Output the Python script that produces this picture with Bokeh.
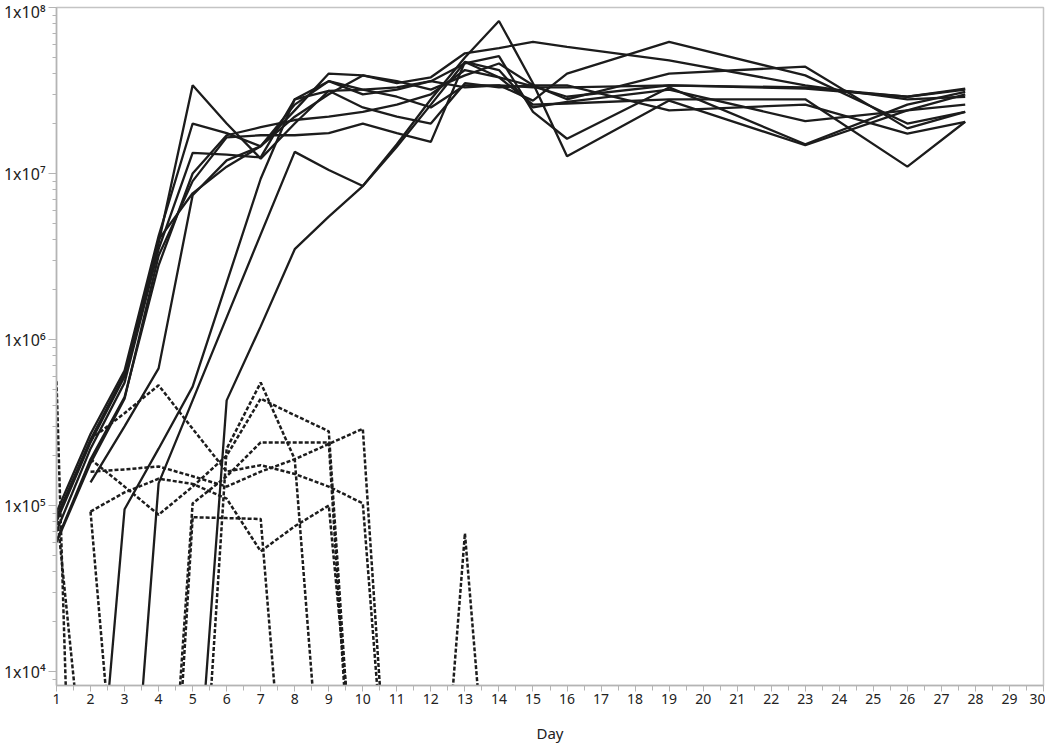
import math
from bokeh.plotting import figure
from bokeh.models import FixedTicker, CustomJSTickFormatter, Range1d
from bokeh.embed import file_html
from bokeh.resources import INLINE

nan = float("nan")

# ---- data ----
days_solid = [1, 2, 3, 4, 5, 6, 7, 8, 9, 10, 11, 12, 13, 14, 15, 16, 19, 23, 26, 27.7]

solid_1 = [8.0e4, 2.4e5, 6.0e5, 3.8e6, 3.4e7, 2.0e7, 1.23e7, 2.0e7, 3.15e7, 3.2e7, 3.3e7, 3.6e7, 3.3e7, 3.4e7, 3.3e7, 3.3e7, 3.4e7, 3.25e7, 2.9e7, 3.25e7]
solid_2 = [9.1e4, 2.7e5, 6.5e5, 4.2e6, 2.0e7, 1.75e7, 1.46e7, 2.4e7, 4.0e7, 3.9e7, 3.5e7, 3.8e7, 5.3e7, 5.7e7, 6.2e7, 5.8e7, 4.8e7, 3.4e7, 2.8e7, 2.9e7]
solid_3 = [7.0e4, 2.2e5, 5.5e5, 3.5e6, 1.33e7, 1.3e7, 1.25e7, 2.8e7, 3.6e7, 3.2e7, 2.9e7, 2.5e7, 3.4e7, 3.4e7, 2.75e7, 4.0e7, 6.2e7, 3.9e7, 2.0e7, 2.35e7]
solid_4 = [6.1e4, 1.9e5, 4.5e5, 2.8e6, 1.0e7, 1.7e7, 1.9e7, 2.1e7, 2.2e7, 2.35e7, 2.6e7, 3.0e7, 4.2e7, 3.8e7, 2.6e7, 2.64e7, 2.8e7, 2.8e7, 1.1e7, 2.05e7]
solid_5 = [6.0e4, 1.8e5, 4.4e5, 3.2e6, 9.0e6, 1.65e7, 1.7e7, 1.7e7, 1.75e7, 2.0e7, 1.75e7, 1.55e7, 4.7e7, 3.8e7, 3.35e7, 2.9e7, 3.4e7, 3.3e7, 2.9e7, 3.2e7]
solid_6 = [8.5e4, 2.5e5, 6.2e5, 4.0e6, 7.6e6, 1.1e7, 1.46e7, 2.6e7, 3.6e7, 3.0e7, 3.2e7, 3.6e7, 4.6e7, 5.1e7, 2.35e7, 1.62e7, 3.3e7, 1.5e7, 2.6e7, 3.1e7]
solid_7 = [nan, 1.38e5, 3.0e5, 6.7e5, 7.4e6, 1.2e7, 1.46e7, 2.2e7, 3.0e7, 3.9e7, 3.6e7, 3.2e7, 3.9e7, 4.6e7, 3.4e7, 2.8e7, 4.0e7, 4.4e7, 1.87e7, 2.35e7]
solid_8 = [300, 415, 9.5e4, 2.2e5, 5.2e5, 2.2e6, 9.3e6, 2.8e7, 3.15e7, 2.5e7, 2.2e7, 2.0e7, 3.5e7, 3.3e7, 3.4e7, 3.4e7, 2.4e7, 2.6e7, 1.74e7, 2.05e7]
solid_9 = [200, 250, 307, 1.36e5, 4.3e5, 1.36e6, 4.3e6, 1.35e7, 1.05e7, 8.4e6, 1.5e7, 2.8e7, 5.0e7, 8.3e7, 3.5e7, 1.27e7, 2.75e7, 1.48e7, 2.4e7, 3.0e7]
solid_10 = [300, 400, 500, 600, 729, 4.3e5, 1.2e6, 3.5e6, 5.5e6, 8.4e6, 1.45e7, 2.6e7, 4.7e7, 4.2e7, 2.5e7, 2.7e7, 3.2e7, 2.07e7, 2.4e7, 2.6e7]

days_dashed = [1, 2, 3, 4, 5, 6, 7, 8, 9, 10, 11, 12, 13, 14]

dashed_1 = [5.6e5, 0.1, nan, nan, nan, nan, nan, nan, nan, nan, nan, nan, nan, nan]
dashed_2 = [9.5e4, 900, nan, nan, nan, nan, nan, nan, nan, nan, nan, nan, nan, nan]
dashed_3 = [nan, 9.2e4, 380, nan, nan, nan, nan, nan, nan, nan, nan, nan, nan, nan]
dashed_4 = [nan, 2.5e5, 3.6e5, 5.3e5, 2.9e5, 1.6e5, 1.75e5, 1.55e5, 1.3e5, 1.03e5, 250, nan, nan, nan]
dashed_5 = [nan, 1.9e5, 1.3e5, 8.8e4, 1.3e5, 2.0e5, 4.4e5, 3.5e5, 2.8e5, 240, nan, nan, nan, nan]
dashed_6 = [nan, 1.6e5, 1.65e5, 1.72e5, 1.5e5, 1.3e5, 1.6e5, 1.9e5, 2.35e5, 2.9e5, 235, nan, nan, nan]
dashed_7 = [nan, nan, nan, 110, 1.03e5, 1.5e5, 2.4e5, 2.4e5, 2.4e5, 135, nan, nan, nan, nan]
dashed_8 = [nan, nan, nan, 35, 8.5e4, 8.4e4, 8.3e4, 260, nan, nan, nan, nan, nan, nan]
dashed_9 = [nan, nan, nan, nan, 150, 2.2e5, 5.5e5, 1.9e5, 450, nan, nan, nan, nan, nan]
dashed_10 = [nan, 9.2e4, 1.2e5, 1.45e5, 1.35e5, 1.1e5, 5.3e4, 7.5e4, 1.0e5, 680, nan, nan, nan, nan]
dashed_11 = [nan, nan, nan, nan, nan, nan, nan, nan, nan, nan, nan, 160, 6.8e4, 225]

x_ticks = list(range(1, 31))
y_ticks = [1e4, 1e5, 1e6, 1e7, 1e8]
y_tick_labels = ["1x10\u2074", "1x10\u2075", "1x10\u2076", "1x10\u2077", "1x10\u2078"]
x_label = "Day"

solid_series = [solid_1, solid_2, solid_3, solid_4, solid_5, solid_6, solid_7, solid_8, solid_9, solid_10]
dashed_series = [dashed_1, dashed_2, dashed_3, dashed_4, dashed_5, dashed_6, dashed_7, dashed_8,
                 dashed_9, dashed_10, dashed_11]

# ---- figure ----
FONT = "Noto Sans"
p = figure(width=1045, height=745, y_axis_type="log",
           x_range=Range1d(1, 30), y_range=Range1d(8240, 1e8),
           output_backend="svg", toolbar_location=None,
           min_border_left=50, min_border_right=2, min_border_top=7, min_border_bottom=30)
p.background_fill_color = "white"
p.border_fill_color = "white"
p.outline_line_color = "#c4c4c4"
p.outline_line_width = 1.5
p.xgrid.visible = False
p.ygrid.visible = False

LINE_COLOR = "#1c1c1c"
for s in solid_series:
    p.line(days_solid, s, line_color=LINE_COLOR, line_width=2.3)
for s in dashed_series:
    p.line(days_dashed, s, line_color=LINE_COLOR, line_width=2.5, line_dash="4 2")

minor_y = []
for e in range(3, 8):
    for m in range(2, 10):
        minor_y.append(m * 10 ** e)
p.yaxis.ticker = FixedTicker(ticks=y_ticks, minor_ticks=minor_y)
p.yaxis.formatter = CustomJSTickFormatter(args=dict(yt=y_ticks, yl=y_tick_labels), code="""
    let best = 0, bd = 1e9;
    for (let i = 0; i < yt.length; i++) {
        const d = Math.abs(Math.log10(yt[i]) - Math.log10(tick));
        if (d < bd) { bd = d; best = i; }
    }
    return yl[best];
""")
p.xaxis.ticker = FixedTicker(ticks=x_ticks, minor_ticks=[t + 0.5 for t in x_ticks[:-1]])
p.xaxis.axis_label = x_label

for ax in (p.xaxis[0], p.yaxis[0]):
    ax.axis_line_color = "#b4b4b4"
    ax.axis_line_width = 1.5
    ax.major_tick_line_color = "#b4b4b4"
    ax.minor_tick_line_color = "#b4b4b4"
    ax.major_tick_in = 0
    ax.minor_tick_in = 0
    ax.major_label_text_font = FONT
    ax.major_label_text_color = "#222222"
    ax.axis_label_text_font = FONT
    ax.axis_label_text_font_style = "normal"
    ax.axis_label_text_color = "#222222"

p.xaxis.major_tick_out = 6
p.xaxis.minor_tick_out = 5
p.xaxis.major_label_text_font_size = "14px"
p.xaxis.axis_label_text_font_size = "15px"
p.xaxis.major_label_standoff = 2
p.xaxis.axis_label_standoff = 16
p.yaxis.major_tick_out = 8
p.yaxis.minor_tick_out = 4
p.yaxis.major_label_text_font_size = "16px"
p.yaxis.major_label_standoff = 3

open("out.html", "w").write(file_html(p, INLINE))
